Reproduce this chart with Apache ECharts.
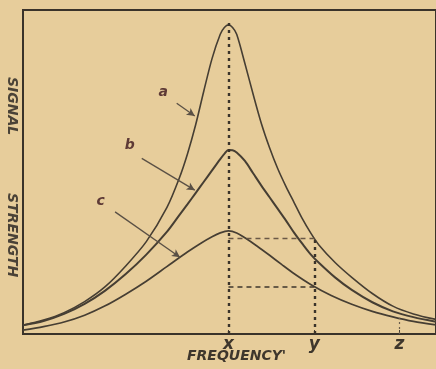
<!DOCTYPE html>
<html>
<head>
<meta charset="utf-8">
<script src="https://cdn.jsdelivr.net/npm/echarts@6/dist/echarts.min.js"></script>
<style>
  html, body { margin: 0; padding: 0; background: #e7cd9b; }
  #chart { width: 436px; height: 369px; }
</style>
</head>
<body>
<div id="chart"></div>
<script>
// resonance curves, x = frequency (0..100), y = signal strength (0..100)
var curveA = [
  [0, 2.7], [5, 4.3], [10, 6.6], [15, 10.0], [20, 14.6], [25, 21.0], [30, 28.5],
  [35, 39.0], [38, 48.0], [40, 55.5], [42, 64.5], [44, 75.0], [46, 85.0], [48, 92.5],
  [49, 94.6], [50, 95.4], [51, 94.6], [52, 92.5], [54, 83.5], [56, 74.0], [58, 65.0],
  [60, 57.5], [62, 51.0], [64, 45.5], [66, 40.5], [68, 35.5], [70, 31.2], [72, 27.5],
  [76, 22.0], [80, 17.5], [85, 12.5], [90, 8.6], [95, 6.2], [100.5, 4.5]
];
var curveB = [
  [0, 2.7], [5, 4.0], [10, 6.2], [15, 9.3], [20, 13.4], [25, 18.5], [30, 24.5],
  [35, 31.5], [38, 36.6], [40, 40.0], [42, 43.5], [44, 47.0], [46, 50.5], [48, 54.0],
  [49, 55.6], [50, 56.8], [51, 56.7], [52, 56.0], [54, 53.4], [56, 49.6], [58, 45.8],
  [60, 42.2], [62, 38.6], [64, 35.0], [66, 31.2], [68, 27.8], [70, 24.6], [72, 22.0],
  [76, 17.4], [80, 13.6], [85, 9.8], [90, 7.0], [95, 5.2], [100.5, 3.8]
];
var curveC = [
  [0, 1.2], [5, 2.3], [10, 3.7], [15, 5.8], [20, 8.7], [25, 12.3], [30, 16.3],
  [35, 20.8], [40, 25.3], [43, 27.8], [46, 30.0], [48, 31.2], [50, 31.8], [52, 31.2],
  [54, 29.7], [57, 27.1], [60, 24.3], [63, 21.4], [66, 18.6], [70, 15.3], [75, 11.9],
  [80, 9.2], [85, 7.0], [90, 5.3], [95, 3.9], [100.5, 2.8]
];

var tickValues = [50, 70.9, 91.6];
var tickLabels = ['x', 'y', 'z'];

// guide lines: resonance peak, point y, and the two levels read across
var peakX = 50, peakTop = 97, markY = 70.9, markZ = 91.6;
var upperLevel = 29.5, lowerLevel = 14.6, zLevel = 5;

// curve labels and their arrows
var curveNames = ['a', 'b', 'c'];
var labelPos = [[34.1, 74.5], [26, 58.3], [18.9, 40.8]];
var arrowFrom = [[37.4, 71.2], [28.9, 54.2], [22.4, 37.7]];
var arrowTo = [[41.8, 67.3], [41.8, 44.4], [38.2, 23.7]];

var ink = '#463e33';
var chart = echarts.init(document.getElementById('chart'));

function curve(name, data, width) {
  return {
    name: name,
    type: 'line',
    data: data,
    smooth: 0.3,
    showSymbol: false,
    silent: true,
    lineStyle: { width: width, color: ink },
    z: 3
  };
}

chart.setOption({
  animation: false,
  backgroundColor: '#e7cd9b',
  grid: {
    left: 23, right: 0, top: 10, bottom: 35,
    show: true, borderColor: '#3a332a', borderWidth: 2
  },
  xAxis: {
    type: 'value', min: 0, max: 100.5,
    axisLine: { show: false },
    splitLine: { show: false },
    axisTick: { show: true, inside: true, length: 4, customValues: tickValues, lineStyle: { color: ink } },
    axisLabel: {
      customValues: tickValues,
      margin: 2,
      formatter: function (v) { return tickLabels[tickValues.indexOf(v)]; },
      fontFamily: 'DejaVu Sans', fontStyle: 'italic', fontWeight: 'bold',
      fontSize: 17, color: '#3e362c'
    }
  },
  yAxis: {
    type: 'value', min: 0, max: 100,
    axisLine: { show: false }, axisTick: { show: false },
    axisLabel: { show: false }, splitLine: { show: false }
  },
  graphic: [
    {
      type: 'text', left: 187, top: 349,
      style: { text: "FREQUENCY'", font: 'italic bold 14px "DejaVu Sans"', fill: '#3e362c' }
    },
    {
      type: 'text', x: 19, y: 77, rotation: -Math.PI / 2,
      style: { text: 'SIGNAL', font: 'italic bold 14px "DejaVu Sans"', fill: '#4a4237' }
    },
    {
      type: 'text', x: 19, y: 193, rotation: -Math.PI / 2,
      style: { text: 'STRENGTH', font: 'italic bold 14px "DejaVu Sans"', fill: '#4a4237' }
    }
  ],
  series: [
    curve('a', curveA, 1.6),
    curve('b', curveB, 2),
    curve('c', curveC, 1.7),
    {
      name: 'guides',
      type: 'line',
      data: [],
      silent: true,
      markLine: {
        silent: true,
        symbol: 'none',
        label: { show: false },
        data: [
          [{ coord: [peakX, 0], lineStyle: { type: [3, 4], width: 2.4, color: '#3a332a' } }, { coord: [peakX, peakTop] }],
          [{ coord: [markY, 0], lineStyle: { type: [3, 4], width: 2.4, color: '#3a332a' } }, { coord: [markY, upperLevel] }],
          [{ coord: [markZ, 0], lineStyle: { type: [2, 3], width: 1.2, color: '#6a5e4c' } }, { coord: [markZ, zLevel] }],
          [{ coord: [peakX, upperLevel], lineStyle: { type: [5, 4], width: 1.3, color: '#6a5846' } }, { coord: [markY, upperLevel] }],
          [{ coord: [peakX, lowerLevel], lineStyle: { type: [5, 4], width: 1.6, color: '#3e362c' } }, { coord: [markY, lowerLevel] }]
        ]
      }
    },
    {
      name: 'arrows',
      type: 'line',
      data: [],
      silent: true,
      markLine: {
        silent: true,
        symbol: ['none', 'arrow'],
        symbolSize: [6, 8],
        label: { show: false },
        lineStyle: { type: 'solid', width: 1.3, color: '#5a5045' },
        data: arrowFrom.map(function (p, i) {
          return [{ coord: p }, { coord: arrowTo[i] }];
        })
      },
      markPoint: {
        silent: true,
        symbol: 'circle',
        symbolSize: 0,
        label: {
          show: true, position: 'inside', formatter: '{b}',
          fontFamily: 'DejaVu Sans', fontStyle: 'italic', fontWeight: 'bold',
          fontSize: 14, color: '#5e3a36'
        },
        data: curveNames.map(function (n, i) {
          return { name: n, coord: labelPos[i] };
        })
      }
    }
  ]
});
</script>
</body>
</html>
